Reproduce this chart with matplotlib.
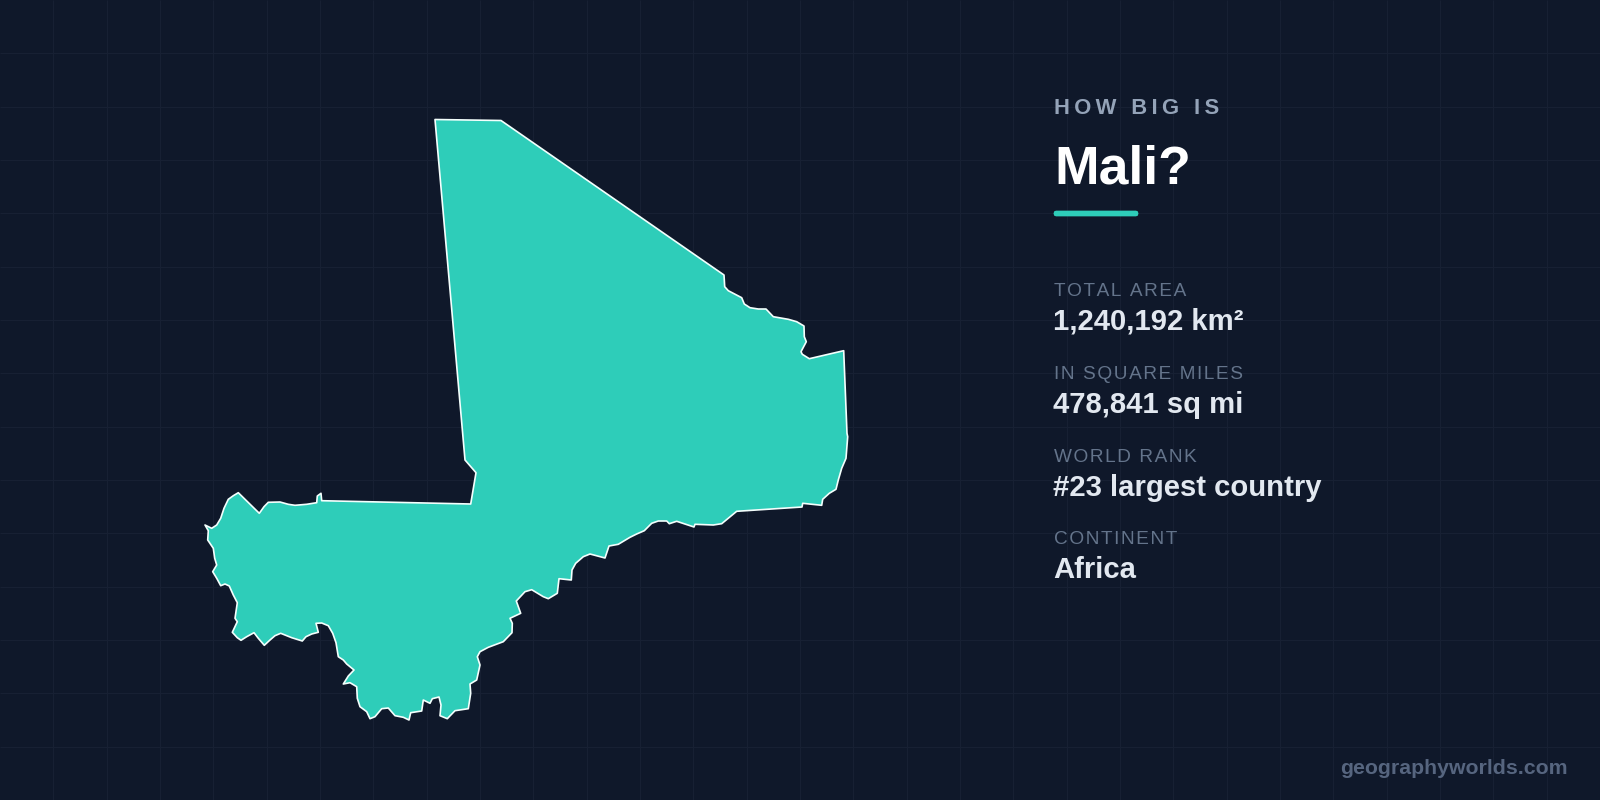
##mali size card, drawn on a pixel sized axes
import numpy as np
import matplotlib
matplotlib.use('Agg')
import matplotlib.pyplot as plt
from matplotlib.patches import Polygon, FancyBboxPatch

plt.rcParams['font.family'] = ['Liberation Sans', 'DejaVu Sans']

BG = '#0f182a'
TEAL = '#2ecdb9'

##border outline, clockwise from the north west corner
border_x = [435, 501, 724, 724.7, 728.3, 741.7, 744.3, 750, 758.3, 766, 773.3, 788.3, 796.7, 804,
            804.3, 806.3, 801, 802.3, 809.3, 843.7, 847, 847.7, 846, 841.7, 838.3, 836, 829.3, 822.7, 821.7,
            802.7, 802, 736.7, 721.7, 713.3, 695, 694, 676.7, 669.3, 666.7, 658.3, 651.7, 644.3, 636.7, 630,
            618.3, 609, 605, 590, 583.3, 575.7, 572, 571.3, 559, 557.3, 548.3, 543.3, 531.7, 525,
            516.3, 520.7, 510, 512.3, 512, 503.3, 488.3, 480, 477.3, 480, 476.7, 470, 470.7, 468.3,
            455, 447.3, 440, 441, 439, 432.3, 430, 423.3, 421.7, 410.7, 409, 403.3, 395, 388.3, 381.7,
            375, 370, 366.7, 360, 357.3, 356.7, 350, 343.3, 348.3, 354, 346.7, 343.3, 338.3, 336, 332.7,
            328.3, 321.7, 316, 318.3, 311.7, 306, 302.3, 291.7, 280.7, 275, 270, 264.3, 258.3, 254,
            246.7, 241, 237.3, 232.3, 237.3, 235, 237.3, 233.3, 229.3, 225, 220.7, 216.7, 212.7, 216.7,
            214.7, 213.3, 207.7, 208.3, 205, 211.7, 216.7, 220.7, 224, 228.3, 233.3, 238.3, 259.3, 264,
            268.3, 280, 288.3, 295, 306.7, 316.7, 317.3, 321, 321.7, 470.7, 476, 465]
border_y = [119.5, 120.5, 275, 286.7, 290.7, 297.7, 304, 307.7, 309, 309, 316.7, 319.3, 321.7, 326,
            336.7, 341.7, 351.7, 354.3, 358.7, 350.7, 433.3, 436.7, 458.3, 468.3, 480, 489.3, 493.3, 499.3, 505.3,
            503.3, 507, 511.3, 523.7, 525, 524.3, 527, 521.3, 523.7, 521, 521, 523.3, 530.7, 534, 537.3,
            544.3, 546, 558, 554, 556.7, 563.3, 570, 580, 578.7, 593.3, 598.7, 596.7, 589.7, 591.7,
            601, 613.3, 618.3, 623.3, 632.7, 641.7, 647.3, 651.7, 656.7, 665, 680, 684, 693.3, 708.7,
            710.7, 718.7, 715.7, 705, 697, 698.7, 703.3, 700, 711, 712.7, 720, 717.3, 715.7, 708, 708.7,
            716.7, 718.7, 711.7, 706.7, 698.3, 686.7, 682.7, 684, 676, 670, 664, 660, 656.7, 642.7, 633.3,
            625.7, 623, 623.3, 632.3, 634, 636.7, 641, 637.7, 633.3, 635.7, 640, 645.3, 638.3, 632.7,
            636.7, 640.3, 637.7, 632.3, 621.7, 618.3, 602.7, 595, 586, 584, 585.7, 578.3, 571.7, 565,
            558.3, 548.3, 540, 530.7, 525, 528.3, 525, 518.3, 508.3, 499.3, 495.7, 492.7, 513.3, 506.7,
            502.3, 502, 504.3, 505.3, 504.3, 502.7, 496, 493.3, 500.7, 504, 472.7, 460]

kicker = 'HOW BIG IS'
country = 'Mali?'
stat_labels = ['TOTAL AREA', 'IN SQUARE MILES', 'WORLD RANK', 'CONTINENT']
stat_values = ['1,240,192 km²', '478,841 sq mi', '#23 largest country', 'Africa']
footer = 'geographyworlds.com'


##css letter spacing does not exist here, so narrow spaces go between the letters
def spaced(s, gap='\u200a'):
    return gap.join(s)


def px(size):
    return size * 0.72


fig = plt.figure(figsize=(16, 8), dpi=100, facecolor=BG)
ax = fig.add_axes([0, 0, 1, 1])
ax.set_xlim(0, 1600)
ax.set_ylim(800, 0)
ax.axis('off')

##faint background grid
ax.vlines(np.arange(1, 30) * 1600 / 30, 0, 800, color='#172033', linewidth=0.72, zorder=1)
ax.hlines(np.arange(1, 15) * 800 / 15, 0, 1600, color='#172033', linewidth=0.72, zorder=1)

ax.add_patch(Polygon(np.column_stack([border_x, border_y]), closed=True, facecolor=TEAL,
                     edgecolor='#f4fffd', linewidth=1.2, joinstyle='round', zorder=2))

ax.text(1054, 114.5, spaced(kicker, '\u2009'), color='#94a3b8', fontsize=px(22), fontweight='bold', va='baseline')
ax.text(1054, 184, country, color='#ffffff', fontsize=px(53.5), fontweight='bold', va='baseline')
ax.add_patch(FancyBboxPatch((1056, 213), 80, 1, boxstyle='round,pad=0,rounding_size=0.5', mutation_scale=1,
                            facecolor=TEAL, edgecolor=TEAL, linewidth=3.4, zorder=3))

for i in range(len(stat_labels)):
    ax.text(1054, 296 + i * 82.8, spaced(stat_labels[i]), color='#64748b', fontsize=px(19), va='baseline')
    ax.text(1053, 330 + i * 82.8, stat_values[i], color='#e2e8f0', fontsize=px(29.3), fontweight='bold', va='baseline')

ax.text(1568, 774, footer, color='#56657f', fontsize=px(21.3), fontweight='bold', ha='right', va='baseline')

fig.savefig('out.png', dpi=100, facecolor=BG)
